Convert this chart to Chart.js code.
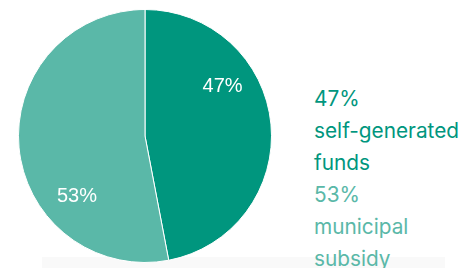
<!DOCTYPE html>
<html>
<head>
<meta charset="utf-8">
<script src="https://cdn.jsdelivr.net/npm/chart.js@4"></script>
<style>
  html, body { margin: 0; padding: 0; background: #ffffff; overflow: hidden; }
  #wrap { position: relative; width: 461px; height: 268px; }
  #grafico { position: absolute; left: 0; top: 0; }
  #faixa { position: absolute; left: 42px; top: 257px; width: 403px; height: 11px; background: #f9f9f9; }
  #legenda { position: absolute; left: 314px; top: 83px; font-family: "Inter", "Open Sans", sans-serif; font-size: 20.8px; line-height: 32px; }
</style>
</head>
<body>
<div id="wrap">
  <div id="faixa"></div>
  <canvas id="grafico" width="290" height="268"></canvas>
  <div id="legenda"></div>
</div>
<script>
var categorias = ["self-generated funds", "municipal subsidy"];
var linhasLegenda = [["self-generated", "funds"], ["municipal", "subsidy"]];
var valores = [47, 53];
var cores = ["#00967e", "#5ab8a8"];

// rótulos de porcentagem dentro das fatias
var pluginRotulos = {
  id: "rotulos",
  afterDatasetsDraw: function (chart) {
    var ctx = chart.ctx;
    var arcos = chart.getDatasetMeta(0).data;
    ctx.save();
    ctx.fillStyle = "#ffffff";
    ctx.font = '20px "Liberation Sans", Arial, sans-serif';
    ctx.textAlign = "center";
    ctx.textBaseline = "middle";
    for (var i = 0; i < arcos.length; i++) {
      var a = arcos[i];
      var ang = a.startAngle + (a.endAngle - a.startAngle) * 0.325;
      var r = a.outerRadius * 0.72;
      ctx.fillText(valores[i] + "%", a.x + Math.cos(ang) * r + 3, a.y + Math.sin(ang) * r + 3);
    }
    ctx.restore();
  }
};

new Chart(document.getElementById("grafico"), {
  type: "pie",
  data: {
    labels: categorias,
    datasets: [{
      data: valores,
      backgroundColor: cores,
      borderColor: "#ffffff",
      borderWidth: 1
    }]
  },
  options: {
    responsive: false,
    animation: false,
    layout: { padding: { left: 18, right: 18, top: 9, bottom: 5 } },
    plugins: {
      legend: { display: false },
      tooltip: { enabled: false }
    }
  },
  plugins: [pluginRotulos]
});

var legenda = document.getElementById("legenda");
for (var i = 0; i < valores.length; i++) {
  var linhas = [valores[i] + "%"].concat(linhasLegenda[i]);
  for (var j = 0; j < linhas.length; j++) {
    var div = document.createElement("div");
    div.textContent = linhas[j];
    div.style.color = cores[i];
    legenda.appendChild(div);
  }
}
</script>
</body>
</html>
